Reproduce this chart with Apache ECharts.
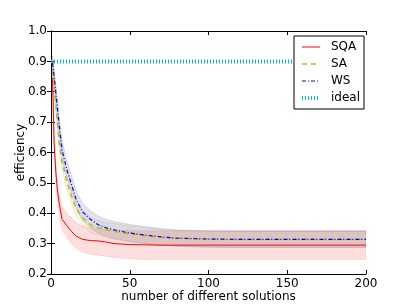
<!DOCTYPE html>
<html>
<head>
<meta charset="utf-8">
<script src="https://cdn.jsdelivr.net/npm/echarts@6/dist/echarts.min.js"></script>
<style>
html,body{margin:0;padding:0;background:#fff;}
#c{width:407px;height:305px;}
</style>
</head>
<body>
<div id="c"></div>
<script>
// ---- data ----
var xs        = [1,    2,    3,    4,    5,    7,    10,   13,   16,   20,   25,   30,   35,   40,   50,   60,   70,   80,   100,  120,  150,  200];
var sqa       = [0.845,0.63, 0.54, 0.48, 0.44, 0.38, 0.36, 0.34, 0.325,0.314,0.31, 0.309,0.305,0.30, 0.297,0.296,0.295,0.295,0.295,0.295,0.295,0.295];
var sqaLow    = [0.82, 0.60, 0.51, 0.45, 0.41, 0.345,0.32, 0.30, 0.285,0.272,0.265,0.262,0.258,0.254,0.25, 0.248,0.248,0.248,0.248,0.248,0.248,0.248];
var sqaHigh   = [0.87, 0.66, 0.57, 0.51, 0.47, 0.425,0.40, 0.385,0.37, 0.358,0.354,0.35, 0.347,0.345,0.343,0.342,0.342,0.342,0.342,0.342,0.342,0.342];
var sa        = [0.875,0.82, 0.76, 0.70, 0.64, 0.57, 0.505,0.455,0.415,0.385,0.362,0.352,0.345,0.34, 0.332,0.326,0.321,0.318,0.315,0.314,0.314,0.314];
var saLow     = [0.85, 0.795,0.735,0.675,0.615,0.545,0.48, 0.43, 0.39, 0.36, 0.337,0.327,0.32, 0.314,0.306,0.3,  0.295,0.292,0.289,0.288,0.288,0.288];
var saHigh    = [0.90, 0.845,0.785,0.725,0.665,0.595,0.53, 0.48, 0.44, 0.41, 0.387,0.377,0.37, 0.366,0.358,0.352,0.347,0.344,0.341,0.34, 0.34, 0.34];
var ws        = [0.895,0.85, 0.80, 0.75, 0.70, 0.61, 0.545,0.495,0.445,0.405,0.38, 0.362,0.352,0.345,0.335,0.328,0.322,0.318,0.315,0.314,0.314,0.314];
var wsLow     = [0.87, 0.822,0.772,0.722,0.672,0.582,0.517,0.467,0.417,0.377,0.352,0.334,0.324,0.317,0.307,0.3,  0.295,0.291,0.288,0.287,0.287,0.287];
var wsHigh    = [0.92, 0.878,0.828,0.778,0.728,0.638,0.573,0.523,0.473,0.433,0.408,0.39, 0.38, 0.373,0.363,0.356,0.349,0.345,0.342,0.342,0.342,0.342];
var idealX    = [0, 200];
var idealY    = [0.9, 0.9];
var xTicks    = [0, 50, 100, 150, 200];
var yTicks    = [0.2, 0.3, 0.4, 0.5, 0.6, 0.7, 0.8, 0.9, 1.0];

function pairs(xa, ya){ return xa.map(function(x,i){ return [x, ya[i]]; }); }

function band(name, lo, hi, fill, stroke){
  return {
    name:name, type:'custom', silent:true, z:1, clip:true,
    data:[[xs[0], lo[0]]],
    encode:{x:0, y:1},
    renderItem:function(params, api){
      var pts = [], i;
      for (i = 0; i < xs.length; i++) pts.push(api.coord([xs[i], hi[i]]));
      for (i = xs.length - 1; i >= 0; i--) pts.push(api.coord([xs[i], lo[i]]));
      return {type:'polygon', shape:{points:pts},
              style:{fill:fill, stroke:stroke, lineWidth:0.8}};
    }
  };
}

var FONT = 'DejaVu Sans';
var chart = echarts.init(document.getElementById('c'), null, {renderer:'canvas'});
var series = [
  band('sqaB', sqaLow, sqaHigh, 'rgba(255,0,0,0.13)', 'rgba(255,120,120,0.25)'),
  band('saB', saLow, saHigh, 'rgba(190,190,60,0.13)', 'rgba(180,180,120,0.3)'),
  band('wsB', wsLow, wsHigh, 'rgba(80,80,170,0.16)', 'rgba(120,120,170,0.3)'),
  {name:'SQA', type:'line', data:pairs(xs, sqa), symbol:'none', z:3,
   lineStyle:{color:'#ff0000', width:1}, itemStyle:{color:'#ff0000'}},
  {name:'SA', type:'line', data:pairs(xs, sa), symbol:'none', z:3,
   lineStyle:{color:'#bfbf00', width:1.5, type:[5,4]}, itemStyle:{color:'#bfbf00'}},
  {name:'WS', type:'line', data:pairs(xs, ws), symbol:'none', z:3,
   lineStyle:{color:'#0000ff', width:1.2, type:[4,2,1,2]}, itemStyle:{color:'#0000ff'}},
  {name:'ideal', type:'line', data:pairs(idealX, idealY), symbol:'none', z:3,
   lineStyle:{color:'#00bfbf', width:4, type:[1,2], cap:'butt'}, itemStyle:{color:'#00bfbf'}}
];

var axisLine = {show:true, lineStyle:{color:'#000', width:1}};
var tickIn = {show:true, inside:true, length:4, lineStyle:{color:'#000'}};

chart.setOption({
  animation:false,
  backgroundColor:'#fff',
  textStyle:{fontFamily:FONT},
  grid:{left:51, right:41, top:31, bottom:31, containLabel:false, outerBoundsMode:'none'},
  legend:{
    data:['SQA','SA','WS','ideal'], z:10,
    orient:'vertical', left:294, top:36,
    padding:[5,4,5,6], itemGap:5, itemWidth:18, itemHeight:10,
    backgroundColor:'#fff', borderColor:'#000', borderWidth:1, borderRadius:0,
    itemStyle:{color:'rgba(0,0,0,0)', borderWidth:0, opacity:0},
    lineStyle:{width:'inherit'},
    textStyle:{fontFamily:FONT, fontSize:12, color:'#000', padding:[0,0,0,6]}
  },
  xAxis:[
    {type:'value', min:0, max:200, interval:50, position:'bottom',
     name:'number of different solutions', nameLocation:'middle', nameGap:17,
     nameMoveOverlap:false,
     nameTextStyle:{fontFamily:FONT, fontSize:12, color:'#000'},
     axisLine:axisLine, axisTick:tickIn, splitLine:{show:false},
     axisLabel:{fontFamily:FONT, fontSize:12, color:'#000', margin:4}},
    {type:'value', min:0, max:200, interval:50, position:'top',
     axisLine:axisLine, axisTick:tickIn, axisLabel:{show:false}, splitLine:{show:false}}
  ],
  yAxis:[
    {type:'value', min:0.2, max:1.0, interval:0.1, position:'left',
     name:'efficiency', nameLocation:'middle', nameGap:24, nameRotate:90,
     nameMoveOverlap:false,
     nameTextStyle:{fontFamily:FONT, fontSize:12, color:'#000'},
     axisLine:axisLine, axisTick:tickIn, splitLine:{show:false},
     axisLabel:{fontFamily:FONT, fontSize:12, color:'#000', margin:4,
       formatter:function(v){ return v.toFixed(1); }}},
    {type:'value', min:0.2, max:1.0, interval:0.1, position:'right',
     axisLine:axisLine, axisTick:tickIn, axisLabel:{show:false}, splitLine:{show:false}}
  ],
  series:series
});
</script>
</body>
</html>
